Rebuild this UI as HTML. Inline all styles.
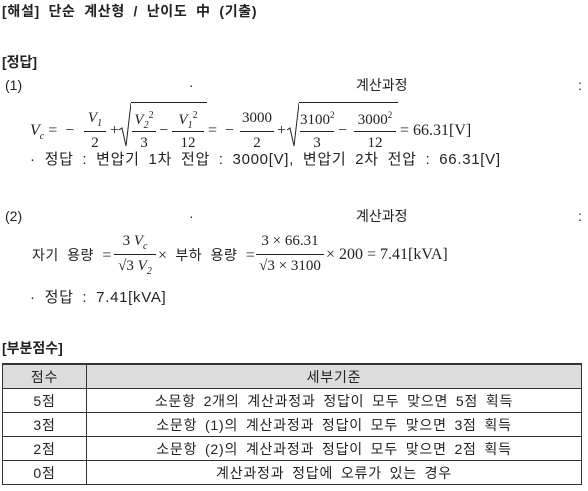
<!DOCTYPE html>
<html><head><meta charset="utf-8">
<style>
html,body{margin:0;padding:0;background:#fff;}
body{width:588px;height:491px;position:relative;overflow:hidden;font-family:"Liberation Sans","Noto Sans CJK KR",sans-serif;color:#222;font-size:14px;}
.a{position:absolute;white-space:nowrap;line-height:1;}
.b{font-weight:bold;}
.ws{word-spacing:4px;letter-spacing:0.7px;}
.m{font-family:"Liberation Serif","Noto Serif CJK SC",serif;font-size:16px;letter-spacing:0;word-spacing:0;}
.i{font-style:italic;}
.fr{position:absolute;text-align:center;font-family:"Liberation Serif",serif;font-size:15px;line-height:1;}
.bar{position:absolute;height:1px;background:#222;}
.sq{position:absolute;border-top:1px solid #222;}
table{position:absolute;left:2px;top:363px;width:580px;border-collapse:collapse;font-size:14px;word-spacing:3px;letter-spacing:0.8px;}
td{border:1px solid #333;text-align:center;height:23px;padding:0;}
tr.h td{background:#dcdcdc;border-top:2px solid #333;height:23px;}
</style></head><body>
<div class="a b ws" style="left:2px;top:4px;font-size:14px">[해설] 단순 계산형 / 난이도 中 (기출)</div>
<div class="a b" style="left:2px;top:55px">[정답]</div>

<div class="a" style="left:5px;top:78px">(1)</div>
<div class="a" style="left:189px;top:78px">·</div>
<div class="a" style="left:356px;top:78px">계산과정</div>
<div class="a" style="left:578px;top:78px">:</div>

<div>
<div class="a m" style="left:30px;top:123px"><span class="i">V<sub style="font-size:10px">c</sub></span> =&nbsp;&nbsp;−</div>
<div class="fr" style="left:84px;top:111px;width:22px"><span class="i">V<sub style="font-size:10px">1</sub></span></div><div class="bar" style="left:84px;top:131px;width:22px"></div><div class="fr" style="left:84px;top:136px;width:22px">2</div>
<div class="a m" style="left:110px;top:123px">+</div>
<svg class="a" style="left:119px;top:102px" width="12" height="45"><polyline points="0,28 3,26 7,44 12,1" fill="none" stroke="#222" stroke-width="1"/></svg>
<div class="sq" style="left:131px;top:102px;width:76px"></div>
<div class="fr" style="left:132px;top:111px;width:24px"><span class="i">V<sub style="font-size:10px">2</sub></span><sup style="font-size:10px">2</sup></div><div class="bar" style="left:132px;top:131px;width:24px"></div><div class="fr" style="left:132px;top:136px;width:24px">3</div>
<div class="a m" style="left:159px;top:123px">−</div>
<div class="fr" style="left:172px;top:111px;width:32px"><span class="i">V<sub style="font-size:10px">1</sub></span><sup style="font-size:10px">2</sup></div><div class="bar" style="left:172px;top:131px;width:32px"></div><div class="fr" style="left:172px;top:136px;width:32px">12</div>
<div class="a m" style="left:208px;top:123px">=&nbsp;&nbsp;−</div>
<div class="fr" style="left:240px;top:111px;width:34px">3000</div><div class="bar" style="left:240px;top:131px;width:34px"></div><div class="fr" style="left:240px;top:136px;width:34px">2</div>
<div class="a m" style="left:277px;top:123px">+</div>
<svg class="a" style="left:287px;top:102px" width="12" height="45"><polyline points="0,28 3,26 7,44 12,1" fill="none" stroke="#222" stroke-width="1"/></svg>
<div class="sq" style="left:299px;top:102px;width:99px"></div>
<div class="fr" style="left:300px;top:111px;width:34px">3100<sup style="font-size:9px">2</sup></div><div class="bar" style="left:300px;top:131px;width:34px"></div><div class="fr" style="left:300px;top:136px;width:34px">3</div>
<div class="a m" style="left:338px;top:123px">−</div>
<div class="fr" style="left:354px;top:111px;width:42px">3000<sup style="font-size:9px">2</sup></div><div class="bar" style="left:354px;top:131px;width:42px"></div><div class="fr" style="left:354px;top:136px;width:42px">12</div>
<div class="a m" style="left:400px;top:123px">= 66.31[V]</div>
</div>
<div class="a ws" style="left:30px;top:152px;font-size:15px">· 정답 : 변압기 1차 전압 : 3000[V], 변압기 2차 전압 : 66.31[V]</div>

<div class="a" style="left:5px;top:209px">(2)</div>
<div class="a" style="left:189px;top:209px">·</div>
<div class="a" style="left:356px;top:209px">계산과정</div>
<div class="a" style="left:578px;top:209px">:</div>

<div>
<div class="a" style="left:32px;top:248px;font-size:14px;word-spacing:4px;letter-spacing:0.5px">자기 용량 <span class="m">=</span></div>
<div class="fr" style="left:114px;top:234px;width:42px">3 <span class="i">V<sub style="font-size:10px">c</sub></span></div><div class="bar" style="left:114px;top:254px;width:42px"></div><div class="fr" style="left:114px;top:259px;width:42px">√3 <span class="i">V<sub style="font-size:10px">2</sub></span></div>
<div class="a" style="left:158px;top:248px;font-size:14px;word-spacing:4px;letter-spacing:0.5px"><span class="m">×</span> 부하 용량 <span class="m">=</span></div>
<div class="fr" style="left:256px;top:234px;width:68px">3 × 66.31</div><div class="bar" style="left:256px;top:254px;width:68px"></div><div class="fr" style="left:256px;top:259px;width:68px">√3 × 3100</div>
<div class="a m" style="left:326px;top:247px">× 200 = 7.41[kVA]</div>
</div>
<div class="a ws" style="left:30px;top:290px;font-size:15px">· 정답 : 7.41[kVA]</div>

<div class="a b" style="left:2px;top:341px">[부분점수]</div>
<table>
<tr class="h"><td style="width:83px">점수</td><td>세부기준</td></tr>
<tr><td>5점</td><td>소문항 2개의 계산과정과 정답이 모두 맞으면 5점 획득</td></tr>
<tr><td>3점</td><td>소문항 (1)의 계산과정과 정답이 모두 맞으면 3점 획득</td></tr>
<tr><td>2점</td><td>소문항 (2)의 계산과정과 정답이 모두 맞으면 2점 획득</td></tr>
<tr><td>0점</td><td>계산과정과 정답에 오류가 있는 경우</td></tr>
</table>
</body></html>
